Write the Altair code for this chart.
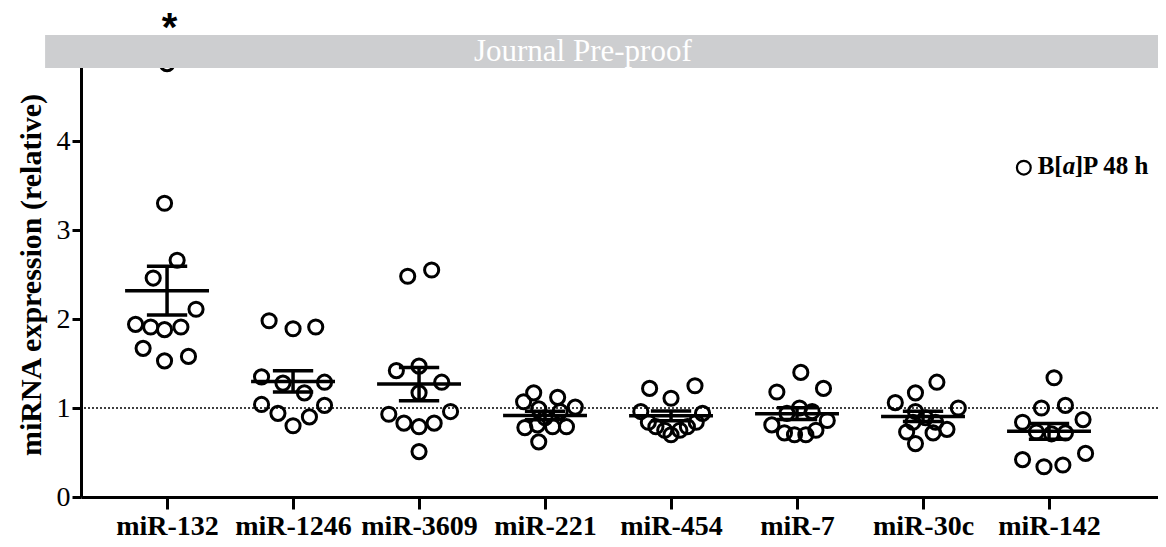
import json
import altair as alt
import pandas as pd

# ---- data ----
categories = ["miR-132", "miR-1246", "miR-3609", "miR-221", "miR-454", "miR-7", "miR-30c", "miR-142"]

mir132_vals = [4.87, 3.30, 2.66, 2.46, 2.11, 1.94, 1.91, 1.88, 1.91, 1.67, 1.53, 1.58]
mir132_jit = [0.00, -0.02, 0.08, -0.11, 0.23, -0.25, -0.13, -0.02, 0.11, -0.19, -0.02, 0.17]

mir1246_vals = [1.98, 1.89, 1.91, 1.35, 1.28, 1.17, 1.29, 1.04, 0.94, 0.80, 0.90, 1.03]
mir1246_jit = [-0.19, 0.00, 0.18, -0.25, -0.08, 0.09, 0.25, -0.25, -0.12, 0.00, 0.13, 0.25]

mir3609_vals = [2.48, 2.55, 1.42, 1.47, 1.29, 1.17, 0.93, 0.83, 0.79, 0.83, 0.96, 0.51]
mir3609_jit = [-0.09, 0.10, -0.18, 0.00, 0.18, 0.00, -0.24, -0.12, 0.00, 0.12, 0.25, 0.00]

mir221_vals = [1.17, 1.07, 1.12, 0.99, 1.01, 0.96, 0.78, 0.81, 0.79, 0.79, 0.62, 0.89]
mir221_jit = [-0.09, -0.17, 0.10, -0.05, 0.24, 0.12, -0.16, -0.06, 0.06, 0.17, -0.05, 0.00]

mir454_vals = [1.22, 1.11, 1.25, 0.96, 0.94, 0.84, 0.79, 0.75, 0.70, 0.75, 0.79, 0.84]
mir454_jit = [-0.17, 0.00, 0.19, -0.24, 0.25, -0.18, -0.12, -0.05, 0.00, 0.07, 0.13, 0.20]

mir7_vals = [1.40, 1.18, 1.22, 1.00, 0.96, 0.94, 0.81, 0.86, 0.72, 0.70, 0.70, 0.75]
mir7_jit = [0.03, -0.16, 0.21, 0.02, 0.12, -0.08, -0.20, 0.24, -0.10, -0.02, 0.07, 0.15]

mir30c_vals = [1.29, 1.17, 1.06, 1.00, 0.96, 0.89, 0.84, 0.73, 0.60, 0.72, 0.76, 0.84]
mir30c_jit = [0.11, -0.06, -0.22, 0.28, -0.06, 0.02, 0.10, -0.13, -0.06, 0.08, 0.19, -0.08]

mir142_vals = [1.34, 1.00, 1.03, 0.84, 0.87, 0.73, 0.71, 0.72, 0.42, 0.34, 0.36, 0.49]
mir142_jit = [0.04, -0.06, 0.13, -0.21, 0.27, -0.10, 0.02, 0.13, -0.21, -0.04, 0.11, 0.29]

y_ticks = [0, 1, 2, 3, 4]
y_title = "miRNA expression (relative)"
legend_label = ["B[", "a", "]P 48 h"]
watermark = "Journal Pre-proof"
significance = "*"

groups = [
    (mir132_vals, mir132_jit), (mir1246_vals, mir1246_jit), (mir3609_vals, mir3609_jit),
    (mir221_vals, mir221_jit), (mir454_vals, mir454_jit), (mir7_vals, mir7_jit),
    (mir30c_vals, mir30c_jit), (mir142_vals, mir142_jit),
]

rows = []
for i, (vals, jit) in enumerate(groups):
    for v, j in zip(vals, jit):
        rows.append({"cat": categories[i], "idx": i, "value": v, "xpos": i + j})
df = pd.DataFrame(rows)

FONT = "Liberation Serif"
xscale = alt.Scale(domain=[-0.683, 7.865], nice=False, zero=False)
yscale = alt.Scale(domain=[0, 5], nice=False)

label_expr = json.dumps(categories) + "[datum.value]"

x_axis = alt.Axis(values=list(range(len(categories))), labelExpr=label_expr, title=None,
                  grid=False, tickSize=12, tickWidth=3, domainWidth=3, domainColor="black",
                  tickColor="black", labelFont=FONT, labelFontSize=28, labelFontWeight="bold",
                  labelColor="black", labelPadding=3, labelFlush=False, labelOverlap=False)
y_axis = alt.Axis(values=y_ticks, format="d", title=y_title, grid=False, tickSize=9, tickWidth=3,
                  domainWidth=3, domainColor="black", tickColor="black", labelFont=FONT,
                  labelFontSize=28, labelColor="black", labelPadding=2, titleFont=FONT,
                  titleFontSize=30, titleFontWeight="bold", titleColor="black", titlePadding=10)

base = alt.Chart(df)

# dotted reference line at 1
ref_line = alt.Chart(pd.DataFrame({"y": [1]})).mark_rule(
    color="black", strokeDash=[2, 2], strokeWidth=1.6
).encode(y=alt.Y("y:Q", scale=yscale, axis=y_axis))

points = base.mark_point(shape="circle", filled=False, size=200, strokeWidth=3,
                         color="black", opacity=1).encode(
    x=alt.X("xpos:Q", scale=xscale, axis=x_axis),
    y=alt.Y("value:Q", scale=yscale, axis=y_axis),
)

stats = base.transform_aggregate(
    m="mean(value)", se="stderr(value)", groupby=["idx"]
).transform_calculate(
    lo="datum.m - datum.se", hi="datum.m + datum.se",
    xl="datum.idx - 0.333", xr="datum.idx + 0.333",
    cl="datum.idx - 0.16", cr="datum.idx + 0.16",
)

mean_line = stats.mark_rule(color="black", strokeWidth=3.5).encode(
    x=alt.X("xl:Q", scale=xscale), x2="xr:Q", y=alt.Y("m:Q", scale=yscale))
sem_v = stats.mark_rule(color="black", strokeWidth=3.5).encode(
    x=alt.X("idx:Q", scale=xscale), y=alt.Y("lo:Q", scale=yscale), y2="hi:Q")
cap_hi = stats.mark_rule(color="black", strokeWidth=3.5).encode(
    x=alt.X("cl:Q", scale=xscale), x2="cr:Q", y=alt.Y("hi:Q", scale=yscale))
cap_lo = stats.mark_rule(color="black", strokeWidth=3.5).encode(
    x=alt.X("cl:Q", scale=xscale), x2="cr:Q", y=alt.Y("lo:Q", scale=yscale))

# legend
leg_df = pd.DataFrame({"x": [6.80], "y": [3.70]})
leg_pt = alt.Chart(leg_df).mark_point(shape="circle", filled=False, size=190, strokeWidth=2.2,
                                      color="black", opacity=1).encode(
    x=alt.X("x:Q", scale=xscale), y=alt.Y("y:Q", scale=yscale))
txt_df = pd.DataFrame({"x": [6.91], "y": [3.72]})
leg_t1 = alt.Chart(txt_df).mark_text(text=legend_label[0], font=FONT, fontSize=25, fontWeight="bold",
                                     align="left", baseline="middle", color="black").encode(
    x=alt.X("x:Q", scale=xscale), y=alt.Y("y:Q", scale=yscale))
leg_t2 = alt.Chart(txt_df).mark_text(text=legend_label[1], font=FONT, fontSize=25, fontWeight="bold",
                                     fontStyle="italic", align="left", baseline="middle",
                                     color="black", dx=25).encode(
    x=alt.X("x:Q", scale=xscale), y=alt.Y("y:Q", scale=yscale))
leg_t3 = alt.Chart(txt_df).mark_text(text=legend_label[2], font=FONT, fontSize=25, fontWeight="bold",
                                     align="left", baseline="middle", color="black", dx=37).encode(
    x=alt.X("x:Q", scale=xscale), y=alt.Y("y:Q", scale=yscale))

# watermark banner
ban_df = pd.DataFrame({"x": [-0.968], "x2": [7.93], "y": [4.82], "y2": [5.19]})
banner = alt.Chart(ban_df).mark_rect(color="#cdced0", clip=False).encode(
    x=alt.X("x:Q", scale=xscale), x2="x2:Q", y=alt.Y("y:Q", scale=yscale), y2="y2:Q")
ban_txt = alt.Chart(pd.DataFrame({"x": [3.30], "y": [5.0]})).mark_text(
    text=watermark, font=FONT, fontSize=31, color="white", align="center", baseline="middle",
    clip=False).encode(x=alt.X("x:Q", scale=xscale), y=alt.Y("y:Q", scale=yscale))

star = alt.Chart(pd.DataFrame({"x": [0.02], "y": [5.48]})).mark_text(
    text=significance, font="Liberation Sans", fontSize=40, fontWeight="bold", color="black",
    align="center", baseline="top", clip=False).encode(
    x=alt.X("x:Q", scale=xscale), y=alt.Y("y:Q", scale=yscale))

chart = alt.layer(
    ref_line, points, mean_line, sem_v, cap_hi, cap_lo,
    leg_pt, leg_t1, leg_t2, leg_t3, banner, ban_txt, star
).properties(
    width=1077, height=445,
    autosize=alt.AutoSizeParams(type="none"),
    padding={"left": 73, "top": 44, "right": 0, "bottom": 42},
    background="white",
).configure_view(stroke=None)

chart.save("out.html", embed_options={"renderer": "svg", "actions": False})
